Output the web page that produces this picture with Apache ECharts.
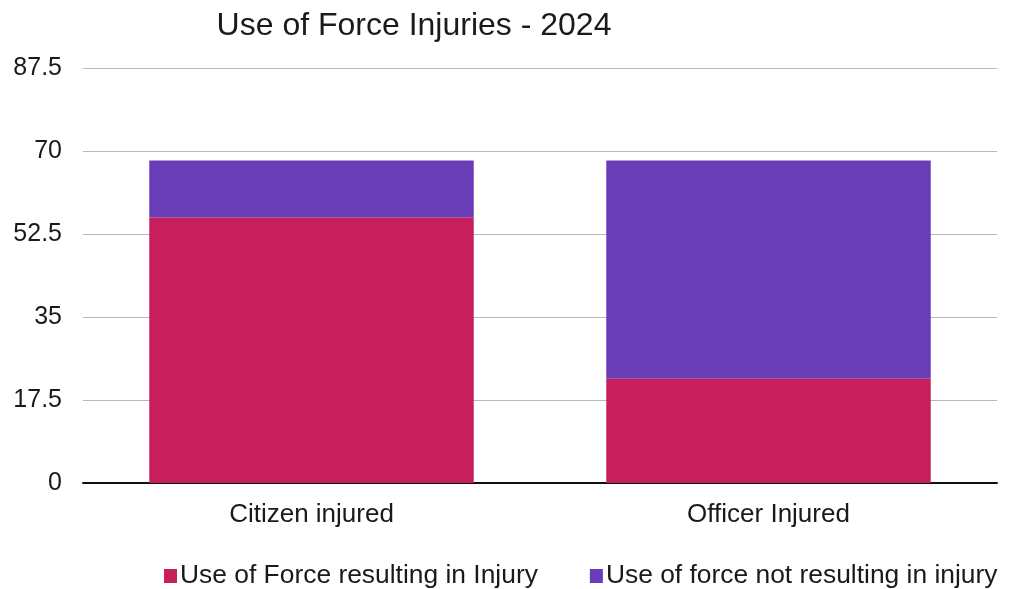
<!DOCTYPE html>
<html><head><meta charset="utf-8">
<script src="https://cdn.jsdelivr.net/npm/echarts@6/dist/echarts.min.js"></script>
<style>html,body{margin:0;padding:0;background:#fff}#c{width:1009px;height:589px}</style>
</head><body><div id="c"></div>
<script>
const categories = ['Citizen injured', 'Officer Injured'];
const injuryValues = [56, 22];
const noInjuryValues = [12, 46];
const yTicks = [0, 17.5, 35, 52.5, 70, 87.5];
const seriesNames = ['Use of Force resulting in Injury', 'Use of force not resulting in injury'];

const chart = echarts.init(document.getElementById('c'));
chart.setOption({
  animation: false,
  title: {
    text: 'Use of Force Injuries - 2024',
    left: 409, top: 5, textAlign: 'center',
    textStyle: {fontFamily: 'Liberation Sans', fontSize: 32, fontWeight: 'normal', color: '#1a1a1a'}
  },
  legend: {
    top: 563, left: 164, width: 845, padding: 0, itemGap: 52, itemWidth: 13, itemHeight: 14, icon: 'rect',
    textStyle: {fontFamily: 'Liberation Sans', fontSize: 26.4, color: '#1a1a1a', padding: [0,0,0,-2]},
    data: seriesNames
  },
  grid: {left: 83, right: 12, top: 68, bottom: 106},
  xAxis: {
    type: 'category', data: categories,
    axisLine: {lineStyle: {color: '#111', width: 2}},
    axisTick: {show: false},
    axisLabel: {fontFamily: 'Liberation Sans', fontSize: 26, color: '#1a1a1a', margin: 19}
  },
  yAxis: {
    type: 'value', min: 0, max: yTicks[yTicks.length-1], interval: 17.5,
    axisLine: {show: false}, axisTick: {show: false},
    splitLine: {lineStyle: {color: '#b8b8b8', width: 1}},
    axisLabel: {fontFamily: 'Liberation Sans', fontSize: 25, color: '#1a1a1a', margin: 21}
  },
  series: [
    {name: seriesNames[0], type: 'bar', stack: 's', data: injuryValues, barWidth: '71%',
     itemStyle: {color: '#C71F5C'}},
    {name: seriesNames[1], type: 'bar', stack: 's', data: noInjuryValues, barWidth: '71%',
     itemStyle: {color: '#6A3DB8'}}
  ]
});
</script></body></html>
